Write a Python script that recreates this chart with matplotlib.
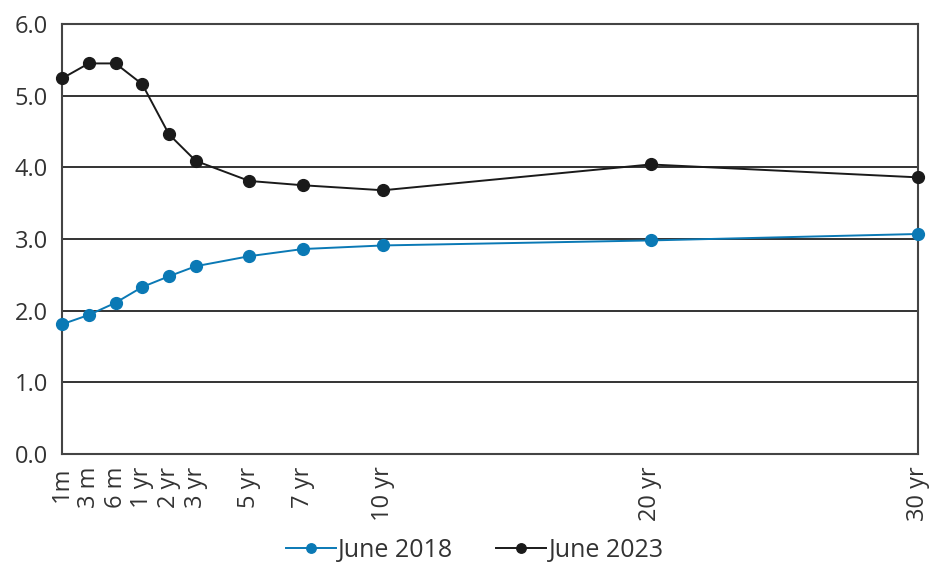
import matplotlib.pyplot as plt

plt.rcParams['font.family'] = ['Open Sans', 'DejaVu Sans']

# Maturities and their positions on the axis
labels = ['1m', '3 m', '6 m', '1 yr', '2 yr', '3 yr', '5 yr', '7 yr', '10 yr', '20 yr', '30 yr']
pos = [-2, -1, 0, 1, 2, 3, 5, 7, 10, 20, 30]

# Yields (%)
june_2018 = [1.81, 1.94, 2.11, 2.33, 2.48, 2.62, 2.76, 2.86, 2.91, 2.98, 3.07]
june_2023 = [5.24, 5.45, 5.45, 5.16, 4.46, 4.09, 3.81, 3.75, 3.68, 4.04, 3.86]

fig = plt.figure(figsize=(9.31, 5.64), dpi=100)
ax = fig.add_axes([62/931, 1 - 454/564, 856/931, 430/564])

ax.plot(pos, june_2018, color='#0a79b5', marker='o', markersize=8.5, linewidth=1.4,
        label='June 2018', clip_on=False, zorder=3)
ax.plot(pos, june_2023, color='#1a1a1a', marker='o', markersize=8.5, linewidth=1.4,
        label='June 2023', clip_on=False, zorder=3)

ax.set_xlim(-2, 30)
ax.set_ylim(0, 6)
ax.set_yticks([0, 1, 2, 3, 4, 5, 6])
ax.set_yticklabels(['%.1f' % v for v in range(7)])
ax.set_xticks(pos)
ax.set_xticklabels(labels, rotation=90)
ax.tick_params(length=0, labelsize=17, colors='#333333')
ax.tick_params(axis='y', pad=10)
ax.tick_params(axis='x', pad=9)
ax.yaxis.grid(True, color='#111111', linewidth=1.2)
ax.set_axisbelow(True)
for s in ax.spines.values():
    s.set_color('#444444')
    s.set_linewidth(1.5)

fig.legend(loc='center', bbox_to_anchor=(0.51, 1 - 550/564), ncol=2, frameon=False,
           fontsize=18, handlelength=2.0, handletextpad=0.1, columnspacing=1.7,
           labelcolor='#333333', markerscale=0.8)

fig.savefig('out.png', dpi=100)
